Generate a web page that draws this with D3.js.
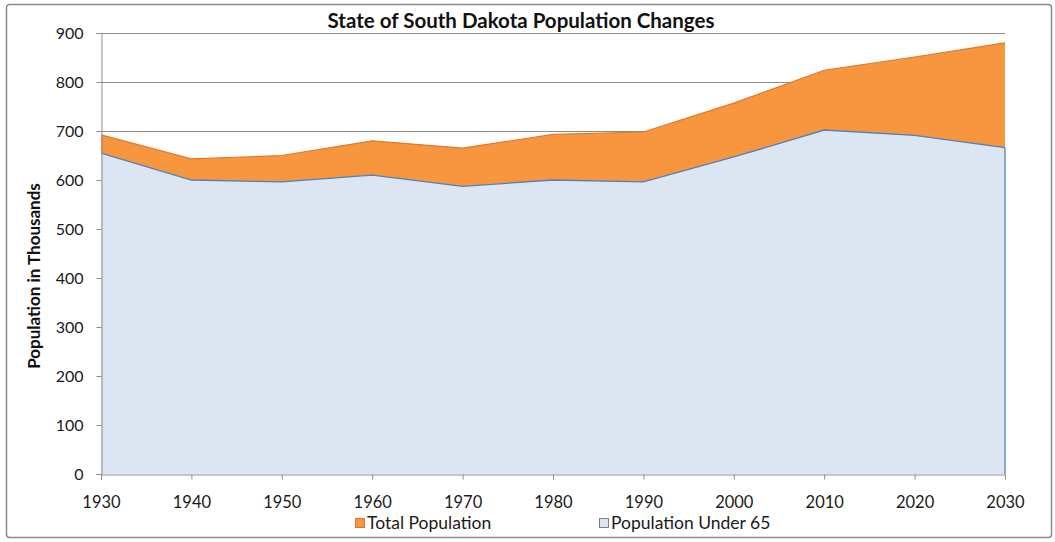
<!DOCTYPE html>
<html>
<head>
<meta charset="utf-8">
<script src="https://cdn.jsdelivr.net/npm/d3@7"></script>
<style>
  html, body { margin: 0; padding: 0; background: #ffffff; }
  svg { display: block; font-family: Lato, "Open Sans", sans-serif; }
</style>
</head>
<body>
<svg id="chart" width="1055" height="542"></svg>
<script>
// Decades on the horizontal axis
const years = [1930, 1940, 1950, 1960, 1970, 1980, 1990, 2000, 2010, 2020, 2030];
// Population in thousands
const totalPopulation = [692, 643, 650, 680, 665, 693, 698, 757, 824, 851, 880];
const populationUnder65 = [655, 600, 596, 610, 587, 600, 596, 647, 702, 691, 666];
const yTicks = [0, 100, 200, 300, 400, 500, 600, 700, 800, 900];
const seriesNames = ["Total Population", "Population Under 65"];

const svg = d3.select("#chart");
const plot = { left: 101, right: 1005, top: 33, bottom: 474 };

const x = d3.scaleLinear().domain([1930, 2030]).range([plot.left, plot.right]);
const y = d3.scaleLinear().domain([0, 900]).range([plot.bottom, plot.top]);

// Outer chart frame
svg.append("rect")
  .attr("x", 6.5).attr("y", 4.5)
  .attr("width", 1045).attr("height", 533)
  .attr("rx", 3)
  .attr("fill", "#ffffff")
  .attr("stroke", "#8a8a8a")
  .attr("stroke-width", 1.5);

// Horizontal gridlines
svg.append("g")
  .selectAll("line")
  .data(yTicks.filter(d => d > 0))
  .join("line")
  .attr("x1", plot.left).attr("x2", plot.right)
  .attr("y1", d => Math.round(y(d)) + 0.5).attr("y2", d => Math.round(y(d)) + 0.5)
  .attr("stroke", "#8c8c8c")
  .attr("stroke-width", 1);

const rowsTotal = years.map((yr, i) => ({ yr, v: totalPopulation[i] }));
const rowsUnder = years.map((yr, i) => ({ yr, v: populationUnder65[i] }));

const area = d3.area().x(d => x(d.yr)).y0(y(0)).y1(d => y(d.v));
const line = d3.line().x(d => x(d.yr)).y(d => y(d.v));

// Total population area
svg.append("path")
  .datum(rowsTotal)
  .attr("d", area)
  .attr("fill", "#f7963f");
svg.append("path")
  .datum(rowsTotal)
  .attr("d", line)
  .attr("fill", "none")
  .attr("stroke", "#e0782a")
  .attr("stroke-width", 1.2);

// Population under 65 area drawn over it
svg.append("path")
  .datum(rowsUnder)
  .attr("d", area)
  .attr("fill", "#dce6f2");
svg.append("path")
  .datum(rowsUnder)
  .attr("d", line)
  .attr("fill", "none")
  .attr("stroke", "#4f81bd")
  .attr("stroke-width", 1.3);
// Right edge of the under-65 area
svg.append("line")
  .attr("x1", x(2030)).attr("x2", x(2030))
  .attr("y1", y(populationUnder65[populationUnder65.length - 1])).attr("y2", y(0))
  .attr("stroke", "#4f81bd")
  .attr("stroke-width", 1.3);

// Y axis
const yAxis = svg.append("g")
  .attr("transform", `translate(${plot.left + 0.5},0)`)
  .call(d3.axisLeft(y).tickValues(yTicks).tickSize(5).tickPadding(13).tickFormat(d3.format("d")));
yAxis.select(".domain").attr("stroke", "#8c8c8c");
yAxis.selectAll(".tick line").attr("stroke", "#8c8c8c");
yAxis.selectAll("text")
  .attr("fill", "#1a1a1a")
  .attr("font-size", 16)
  .attr("font-family", "Lato, 'Open Sans', sans-serif");

// X axis
const xAxis = svg.append("g")
  .attr("transform", `translate(0,${plot.bottom + 0.5})`)
  .call(d3.axisBottom(x).tickValues(years).tickSize(5).tickPadding(17).tickFormat(d3.format("d")));
xAxis.select(".domain").attr("stroke", "#8c8c8c");
xAxis.selectAll(".tick line").attr("stroke", "#8c8c8c");
xAxis.selectAll("text")
  .attr("fill", "#1a1a1a")
  .attr("font-size", 16.5)
  .attr("font-family", "Lato, 'Open Sans', sans-serif");

// Title
svg.append("text")
  .attr("x", 521).attr("y", 28)
  .attr("text-anchor", "middle")
  .attr("font-size", 20.5)
  .attr("font-weight", "bold")
  .attr("fill", "#111")
  .text("State of South Dakota Population Changes");

// Y axis title
svg.append("text")
  .attr("transform", "translate(40,276) rotate(-90)")
  .attr("text-anchor", "middle")
  .attr("font-size", 17)
  .attr("font-weight", "bold")
  .attr("fill", "#111")
  .text("Population in Thousands");

// Legend
const legendItems = [
  { name: seriesNames[0], fill: "#f7963f", stroke: "#d9772e", x: 355 },
  { name: seriesNames[1], fill: "#dce6f2", stroke: "#7f7f7f", x: 599 }
];
const lg = svg.append("g").selectAll("g").data(legendItems).join("g")
  .attr("transform", d => `translate(${d.x},518)`);
lg.append("rect")
  .attr("x", 0.5).attr("y", 0.5)
  .attr("width", 9).attr("height", 9)
  .attr("fill", d => d.fill)
  .attr("stroke", d => d.stroke)
  .attr("stroke-width", 1);
lg.append("text")
  .attr("x", 12).attr("y", 10.5)
  .attr("font-size", 17.5)
  .attr("fill", "#1a1a1a")
  .text(d => d.name);
</script>
</body>
</html>
